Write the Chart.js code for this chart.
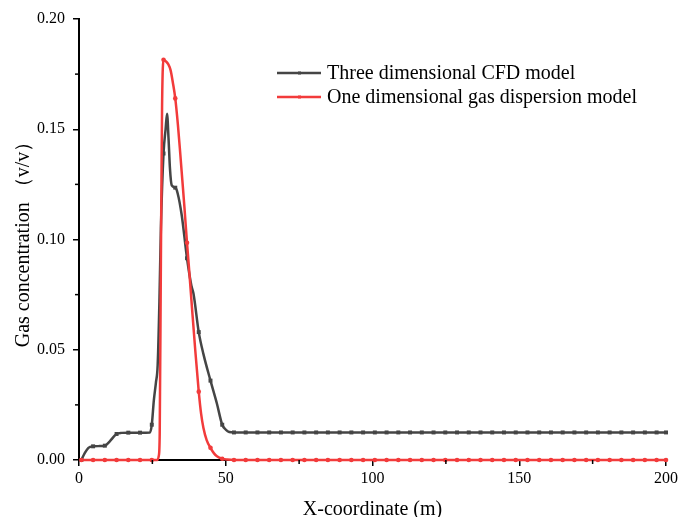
<!DOCTYPE html>
<html>
<head>
<meta charset="utf-8">
<title>Gas concentration along X</title>
<script src="https://cdn.jsdelivr.net/npm/chart.js@4.4.1/dist/chart.umd.min.js"></script>
<style>
  html, body { margin: 0; padding: 0; background: #fff; }
  #wrap { width: 692px; height: 517px; }
</style>
</head>
<body>
<div id="wrap"><canvas id="chart" width="692" height="517"></canvas></div>
<script>
/* ---- Data ---- */
const seriesLabels = ["Three dimensional CFD model", "One dimensional gas dispersion model"];

// Three dimensional CFD model
const cfdX = [0.8, 2.0, 3.2, 4.8, 7.0, 8.8, 10.5, 12.0, 12.8, 14.5, 16.8, 20.8, 24.2, 24.8,
  25.5, 26.2, 26.8, 27.4, 27.9, 28.8, 29.5, 30.0, 30.5, 31.0, 31.6, 32.8, 33.6, 35.0,
  36.8, 38.3, 39.0, 40.8, 42.4, 44.8, 47.0, 48.8, 50.0, 51.2, 52.8, 56.8, 60.8, 64.8,
  68.8, 72.8, 76.8, 80.8, 84.8, 88.8, 92.8, 96.8, 100.8, 104.8, 108.8, 112.8, 116.8,
  120.8, 124.8, 128.8, 132.8, 136.8, 140.8, 144.8, 148.8, 152.8, 156.8, 160.8, 164.8,
  168.8, 172.8, 176.8, 180.8, 184.8, 188.8, 192.8, 196.8, 200];
const cfdY = [0, 0.0032, 0.0055, 0.0062, 0.0063, 0.0065, 0.0085, 0.0108, 0.0118, 0.0123, 0.0124, 0.0124, 0.0125, 0.016,
  0.027, 0.035, 0.043, 0.072, 0.105, 0.139, 0.150, 0.157, 0.146, 0.132, 0.1245, 0.1235, 0.121, 0.111,
  0.0915, 0.079, 0.0755, 0.058, 0.048, 0.036, 0.0255, 0.016, 0.0138, 0.0127, 0.0125, 0.0125, 0.0125, 0.0125,
  0.0125, 0.0125, 0.0125, 0.0125, 0.0125, 0.0125, 0.0125, 0.0125, 0.0125, 0.0125, 0.0125, 0.0125, 0.0125,
  0.0125, 0.0125, 0.0125, 0.0125, 0.0125, 0.0125, 0.0125, 0.0125, 0.0125, 0.0125, 0.0125, 0.0125,
  0.0125, 0.0125, 0.0125, 0.0125, 0.0125, 0.0125, 0.0125, 0.0125, 0.0125];

// One dimensional gas dispersion model
const gasX = [0.8, 4.8, 8.8, 12.8, 16.8, 20.8, 24.8, 26.6, 27.2, 27.5, 27.9, 28.3, 28.8, 29.6,
  30.4, 31.2, 32.0, 32.8, 33.7, 34.5, 35.2, 35.9, 36.8, 37.6, 38.5, 39.6, 40.8, 41.6,
  42.4, 43.5, 44.8, 46.0, 47.0, 48.8, 50.5, 52.8, 56.8, 60.8, 64.8, 68.8, 72.8, 76.8,
  80.8, 84.8, 88.8, 92.8, 96.8, 100.8, 104.8, 108.8, 112.8, 116.8, 120.8, 124.8, 128.8,
  132.8, 136.8, 140.8, 144.8, 148.8, 152.8, 156.8, 160.8, 164.8, 168.8, 172.8, 176.8,
  180.8, 184.8, 188.8, 192.8, 196.8, 200];
const gasY = [0, 0, 0, 0, 0, 0, 0, 0, 0.002, 0.012, 0.09, 0.16, 0.1815, 0.1808,
  0.1795, 0.1768, 0.171, 0.164, 0.152, 0.139, 0.127, 0.115, 0.0985, 0.085, 0.069, 0.050, 0.031, 0.021,
  0.0145, 0.009, 0.0055, 0.003, 0.0017, 0.0006, 0.0002, 0, 0, 0, 0, 0, 0, 0,
  0, 0, 0, 0, 0, 0, 0, 0, 0, 0, 0, 0, 0,
  0, 0, 0, 0, 0, 0, 0, 0, 0, 0, 0, 0,
  0, 0, 0, 0, 0, 0];

const xTicks = { min: 0, max: 200, step: 50 };
const yTicks = { min: 0, max: 0.2, step: 0.05 };

/* ---- Styling ---- */
const serif = "'Liberation Serif', 'Times New Roman', serif";
const colors = { cfd: "#454545", gas: "#f23b3b" };

// Origin puts a symbol every 4 m (plus the end point)
const isMarker = x => x === 200 || Math.abs((x - 0.8) / 4 - Math.round((x - 0.8) / 4)) < 1e-6;
const pts = (xs, ys) => xs.map((x, i) => ({ x: x, y: ys[i] }));

/* ---- Minor ticks half way between the labelled ones ---- */
const minorTicks = {
  id: "minorTicks",
  afterDraw(chart) {
    const { ctx } = chart;
    ctx.save();
    ctx.strokeStyle = "#000";
    ctx.lineWidth = 1.5;
    ["x", "y"].forEach(id => {
      const s = chart.scales[id];
      const vals = s.ticks.map(t => t.value);
      for (let i = 0; i < vals.length - 1; i++) {
        const v = (vals[i] + vals[i + 1]) / 2;
        const p = s.getPixelForValue(v);
        ctx.beginPath();
        if (id === "x") { ctx.moveTo(p, s.top); ctx.lineTo(p, s.top + 4); }
        else { ctx.moveTo(s.right, p); ctx.lineTo(s.right - 4, p); }
        ctx.stroke();
      }
    });
    ctx.restore();
  }
};

/* ---- Legend drawn Origin-style inside the plot ---- */
const plotLegend = {
  id: "plotLegend",
  afterDraw(chart) {
    const { ctx, chartArea } = chart;
    const x0 = chartArea.left + 198;
    const y0 = chartArea.top + 54;
    ctx.save();
    chart.data.datasets.forEach((ds, i) => {
      const y = y0 + i * 24;
      ctx.strokeStyle = ds.borderColor;
      ctx.lineWidth = ds.borderWidth;
      ctx.beginPath();
      ctx.moveTo(x0, y);
      ctx.lineTo(x0 + 44, y);
      ctx.stroke();
      ctx.fillStyle = ds.borderColor;
      ctx.fillRect(x0 + 21, y - 1.5, 3, 3);
      ctx.fillStyle = "#000";
      ctx.font = "20px " + serif;
      ctx.textBaseline = "middle";
      ctx.textAlign = "left";
      ctx.fillText(ds.label, x0 + 50, y + 1);
    });
    ctx.restore();
  }
};

const axisFont = { family: serif, size: 16 };
const titleFont = { family: serif, size: 20, weight: "normal" };

new Chart(document.getElementById("chart"), {
  type: "line",
  data: {
    datasets: [
      {
        label: seriesLabels[0],
        data: pts(cfdX, cfdY),
        borderColor: colors.cfd,
        backgroundColor: colors.cfd,
        borderWidth: 2.5,
        cubicInterpolationMode: "monotone",
        pointStyle: "rect",
        pointRadius: c => (c.raw && isMarker(c.raw.x)) ? 2.8 : 0,
        pointBorderWidth: 0,
        clip: 6,
        order: 1
      },
      {
        label: seriesLabels[1],
        data: pts(gasX, gasY),
        borderColor: colors.gas,
        backgroundColor: colors.gas,
        borderWidth: 2.5,
        cubicInterpolationMode: "monotone",
        pointStyle: "circle",
        pointRadius: c => (c.raw && isMarker(c.raw.x)) ? 2.3 : 0,
        pointBorderWidth: 0,
        clip: 6,
        order: 0
      }
    ]
  },
  options: {
    responsive: false,
    animation: false,
    events: [],
    layout: { padding: { top: 19, right: 26, left: 0, bottom: 0 } },
    plugins: {
      legend: { display: false },
      tooltip: { enabled: false }
    },
    scales: {
      x: {
        type: "linear",
        min: xTicks.min,
        max: xTicks.max,
        ticks: { stepSize: xTicks.step, color: "#000", font: axisFont, padding: 3, maxRotation: 0 },
        grid: { drawOnChartArea: false, tickLength: 6, color: "#000", lineWidth: 1.5 },
        border: { color: "#000", width: 2 },
        title: { display: true, text: "X-coordinate (m)", color: "#000", font: titleFont, padding: { top: 0, bottom: -5 } },
        afterFit: s => { s.height = 57; }
      },
      y: {
        type: "linear",
        min: yTicks.min,
        max: yTicks.max,
        ticks: { stepSize: yTicks.step, color: "#000", font: axisFont, padding: 8, callback: v => v.toFixed(2) },
        grid: { drawOnChartArea: false, tickLength: 6, color: "#000", lineWidth: 1.5 },
        border: { color: "#000", width: 2 },
        title: { display: true, text: "Gas concentration （v/v）", color: "#000", font: titleFont, padding: { top: 12, bottom: 0 } },
        afterFit: s => { s.width = 79; }
      }
    }
  },
  plugins: [minorTicks, plotLegend]
});
</script>
</body>
</html>
